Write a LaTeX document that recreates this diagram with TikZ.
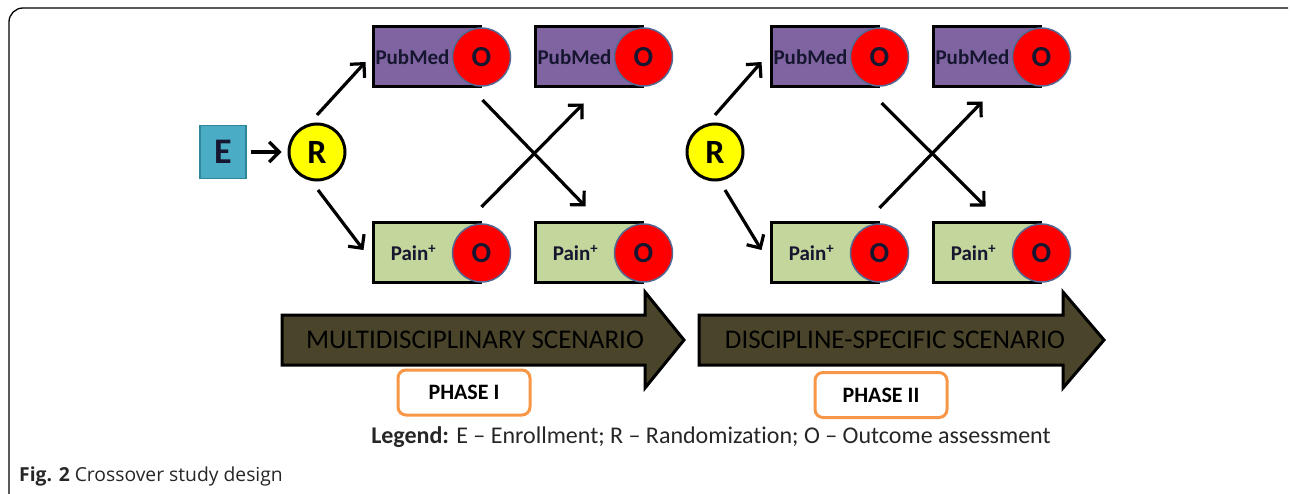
\documentclass[tikz,border=0pt]{standalone}
\usepackage{fontspec}
\setmainfont{Carlito}[Ligatures=NoCommon]
\newfontfamily\capfont{Open Sans}
\usetikzlibrary{positioning,arrows.meta}
\definecolor{efill}{RGB}{75,172,198}
\definecolor{eline}{RGB}{49,133,155}
\definecolor{randyel}{RGB}{255,255,0}
\definecolor{pubfill}{RGB}{128,100,162}
\definecolor{painfill}{RGB}{195,214,155}
\definecolor{outred}{RGB}{255,0,0}
\definecolor{ringblue}{RGB}{84,104,148}
\definecolor{armink}{RGB}{22,22,48}
\definecolor{scenfill}{RGB}{74,69,42}
\definecolor{phaseorange}{RGB}{247,150,70}
\tikzset{
	every node/.style = {inner sep = 0},
	>={Straight Barb[length=10pt,width=20pt]},
	conn/.style={->, line width=3.2, black},
	entry/.style={draw=eline, line width=1.5, fill=efill, minimum width=46, minimum height=53, font=\bfseries\fontsize{36}{36}\selectfont, text=armink},
	rand/.style={circle, draw=black, line width=3, fill=randyel, minimum size=56, font=\bfseries\fontsize{34}{34}\selectfont},
	arm/.style={draw=black, line width=3, minimum width=107, minimum height=60},
	armtext/.style={font=\bfseries\fontsize{21}{24}\selectfont, text=armink},
	outc/.style={circle, draw=ringblue, line width=1.5, fill=outred, minimum size=58, font=\bfseries\fontsize{29}{29}\selectfont, text=armink},
	scen/.style={draw=black, line width=3, fill=scenfill},
	scentext/.style={font=\fontsize{27}{30}\selectfont, text=black},
	phase/.style={draw=phaseorange, line width=3, rounded corners=8, fill=white, minimum width=132, minimum height=45, font=\bfseries\fontsize{22}{24}\selectfont},
	legend/.style={font=\fontsize{24}{26}\selectfont, text=black!85},
	caption/.style={font=\capfont\fontsize{19.3}{22}\selectfont, text=black!85}
}

\begin{document}
\begin{tikzpicture}[x=1pt, y=-1pt]
	\useasboundingbox (0,0) rectangle (1290,494);
	\draw[line width=1.3, rounded corners=14] (9,494) -- (9,8) -- (1288,8);

	% phase I
	\node(enroll)[entry] at (223,152) {E};
	\node(rand1)[rand] at (317,152) {R};
	\node(pm1)[arm, fill=pubfill] at (426.5,57) {};
	\node(pm1o)[outc] at (pm1.east) {O};
	\node(pm1t)[armtext] at ([shift={(-14,0)}]pm1.center) {PubMed};
	\node(pn1)[arm, fill=painfill] at (426.5,253) {};
	\node(pn1o)[outc] at (pn1.east) {O};
	\node(pn1t)[armtext] at ([shift={(-13,0)}]pn1.center) {Pain\textsuperscript{+}};
	\node(pm2)[arm, fill=pubfill] at (588.5,57) {};
	\node(pm2o)[outc] at (pm2.east) {O};
	\node(pm2t)[armtext] at ([shift={(-14,0)}]pm2.center) {PubMed};
	\node(pn2)[arm, fill=painfill] at (588.5,253) {};
	\node(pn2o)[outc] at (pn2.east) {O};
	\node(pn2t)[armtext] at ([shift={(-13,0)}]pn2.center) {Pain\textsuperscript{+}};

	% phase II
	\node(rand2)[rand] at (715,152) {R};
	\node(pm3)[arm, fill=pubfill] at (824.5,57) {};
	\node(pm3o)[outc] at (pm3.east) {O};
	\node(pm3t)[armtext] at ([shift={(-14,0)}]pm3.center) {PubMed};
	\node(pn3)[arm, fill=painfill] at (824.5,253) {};
	\node(pn3o)[outc] at (pn3.east) {O};
	\node(pn3t)[armtext] at ([shift={(-13,0)}]pn3.center) {Pain\textsuperscript{+}};
	\node(pm4)[arm, fill=pubfill] at (986.5,57) {};
	\node(pm4o)[outc] at (pm4.east) {O};
	\node(pm4t)[armtext] at ([shift={(-14,0)}]pm4.center) {PubMed};
	\node(pn4)[arm, fill=painfill] at (986.5,253) {};
	\node(pn4o)[outc] at (pn4.east) {O};
	\node(pn4t)[armtext] at ([shift={(-13,0)}]pn4.center) {Pain\textsuperscript{+}};

	\draw[conn, shorten <=4, shorten >=6] (enroll) -- (rand1);
	\draw[conn] ([shift={(0,-37)}]rand1.center) -- ([shift={(-6,5)}]pm1.west);
	\draw[conn] ([shift={(1,38)}]rand1.center) -- ([shift={(-8,-3)}]pn1.west);
	\draw[conn] ([shift={(1,43)}]pm1o.center) -- ([shift={(-3,-15)}]pn2.north);
	\draw[conn] ([shift={(0,-46)}]pn1o.center) -- ([shift={(-5,15)}]pm2.south);
	\draw[conn] ([shift={(0,-37)}]rand2.center) -- ([shift={(-8,5)}]pm3.west);
	\draw[conn] ([shift={(10,38)}]rand2.center) -- ([shift={(-8,-3)}]pn3.west);
	\draw[conn] ([shift={(2,46)}]pm3o.center) -- ([shift={(-1,-15)}]pn4.north);
	\draw[conn] ([shift={(0,-45)}]pn3o.center) -- ([shift={(-4,13)}]pm4.south);

	% scenario arrows
	\draw[scen] (282,315) -- (645,315) -- (645,292) -- (684,340) -- (645,388) -- (645,365) -- (282,365) -- cycle;
	\node(multi)[scentext] at (475,340) {MULTIDISCIPLINARY SCENARIO};
	\draw[scen] (699,315) -- (1063,315) -- (1063,292) -- (1104,340) -- (1063,388) -- (1063,365) -- (699,365) -- cycle;
	\node(specific)[scentext] at (895,340) {DISCIPLINE-SPECIFIC SCENARIO};

	\node(phase1)[phase] at (464,392.5) {PHASE I};
	\node(phase2)[phase] at (881,395) {PHASE II};

	\node(legend)[legend] at (711,437) {\textbf{Legend:} E -- Enrollment; R -- Randomization; O -- Outcome assessment};
	\node(caption)[caption, anchor=west] at (19,476) {\textbf{Fig. 2} Crossover study design};
\end{tikzpicture}
\end{document}
